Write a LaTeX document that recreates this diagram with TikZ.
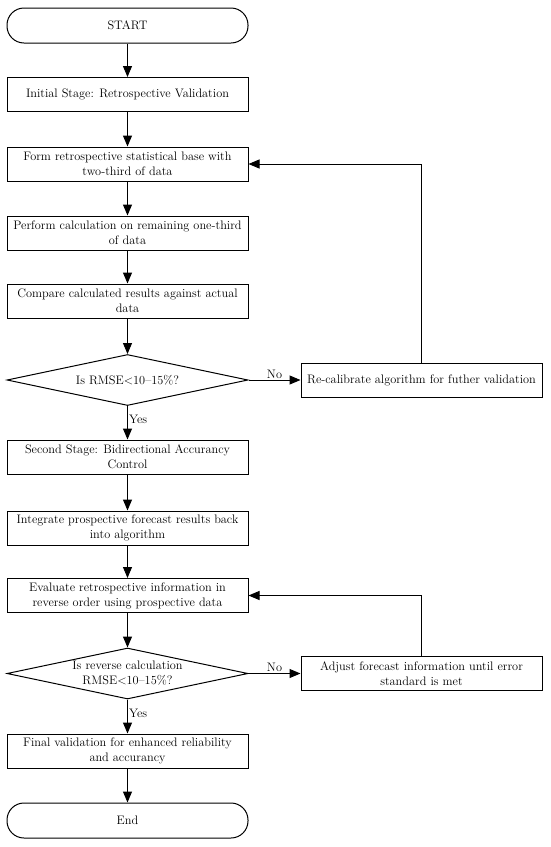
\documentclass[tikz,border=0pt]{standalone}
\usetikzlibrary{arrows.meta,shapes.geometric}
\begin{document}
\begin{tikzpicture}[x=1pt,y=-1pt,
  font=\fontsize{12.3}{15}\selectfont,
  stepbox/.style={draw,line width=1pt,minimum width=241pt,minimum height=34pt,align=center,inner sep=2pt},
  termbox/.style={draw,line width=1pt,rounded corners=17pt,minimum width=241pt,minimum height=35pt,align=center},
  decbox/.style={draw,diamond,line width=1pt,minimum width=241pt,minimum height=51pt,inner sep=0pt},
  conn/.style={line width=1pt,-{Triangle[length=11pt,width=9pt]}},
  lbl/.style={inner sep=1pt}]
\useasboundingbox (0,0) rectangle (550,847);
\node[termbox] (start) at (127.5,25.5) {START};
\node[stepbox] (b1) at (127.5,94.5) {Initial Stage: Retrospective Validation};
\node[stepbox] (b2) at (127.5,164) {Form retrospective statistical base with\\two-third of data};
\node[stepbox] (b3) at (127.5,233) {Perform calculation on remaining one-third\\of data};
\node[stepbox] (b4) at (127.5,301) {Compare calculated results against actual\\data};
\node[decbox] (d1) at (127.5,380) {};
\node (d1t) at (d1) {Is RMSE<10--15\%?};
\node[stepbox] (r1) at (421.5,380) {Re-calibrate algorithm for futher validation};
\node[stepbox] (b5) at (127.5,457) {Second Stage: Bidirectional Accurancy\\Control};
\node[stepbox] (b6) at (127.5,528) {Integrate prospective forecast results back\\into algorithm};
\node[stepbox] (b7) at (127.5,595.5) {Evaluate retrospective information in\\reverse order using prospective data};
\node[decbox] (d2) at (127.5,673.5) {};
\node[align=center] (d2t) at (d2) {Is reverse calculation\\RMSE<10--15\%?};
\node[stepbox] (r2) at (421.5,673.5) {Adjust forecast information until error\\standard is met};
\node[stepbox] (b8) at (127.5,751) {Final validation for enhanced reliability\\and accurancy};
\node[termbox] (end) at (127.5,820.5) {End};

\draw[conn] (start) -- (b1);
\draw[conn] (b1) -- (b2);
\draw[conn] (b2) -- (b3);
\draw[conn] (b3) -- (b4);
\draw[conn] (b4) -- (d1);
\draw[conn] (d1) -- node[lbl,right,pos=0.4] {Yes} (b5);
\draw[conn] (d1) -- node[lbl,above,pos=0.5] {No} (r1);
\draw[conn] (r1.north) |- (b2.east);
\draw[conn] (b5) -- (b6);
\draw[conn] (b6) -- (b7);
\draw[conn] (b7) -- (d2);
\draw[conn] (d2) -- node[lbl,right,pos=0.4] {Yes} (b8);
\draw[conn] (d2) -- node[lbl,above,pos=0.5] {No} (r2);
\draw[conn] (r2.north) |- (b7.east);
\draw[conn] (b8) -- (end);
\end{tikzpicture}
\end{document}
